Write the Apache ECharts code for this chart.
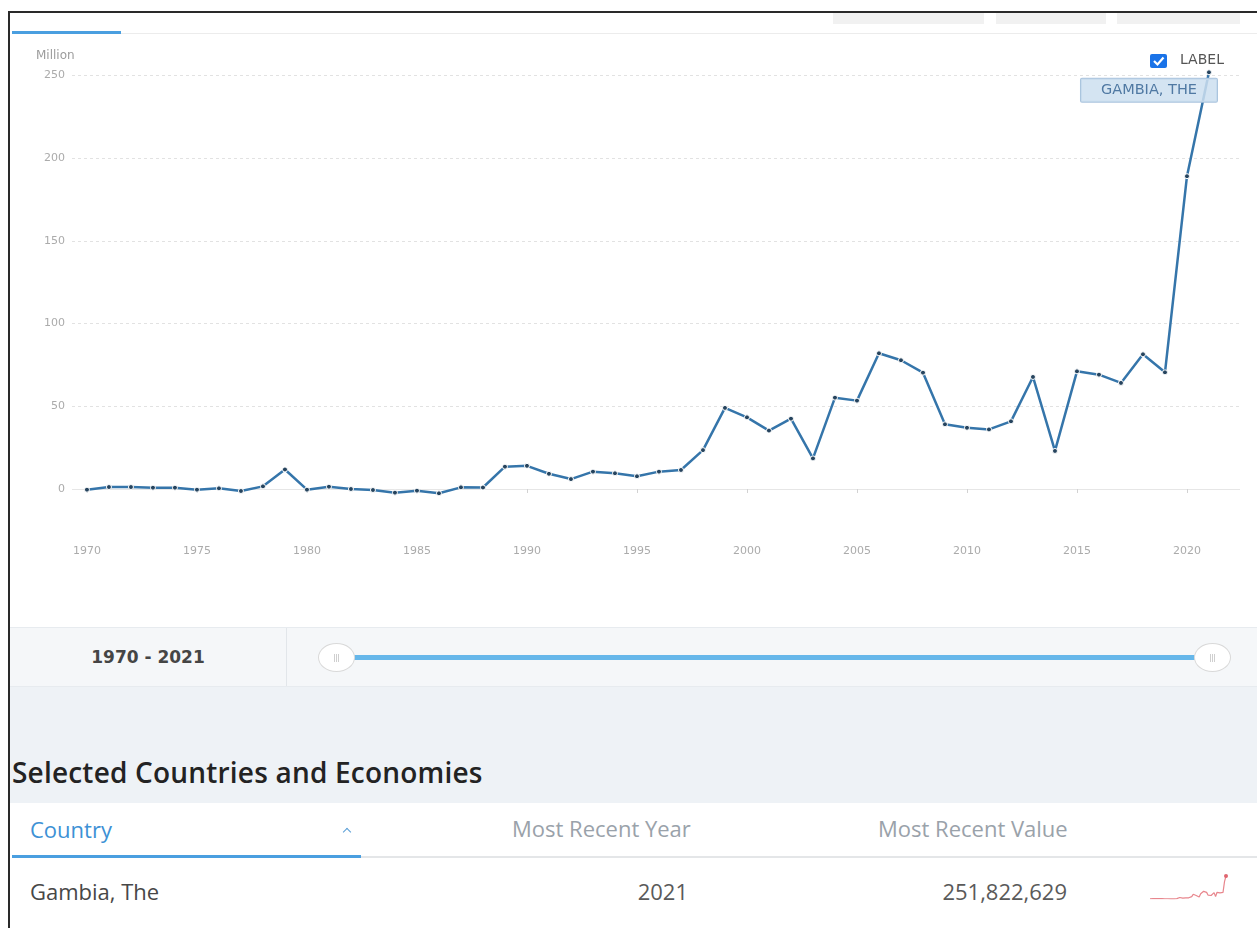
<!DOCTYPE html>
<html>
<head>
<meta charset="utf-8">
<title>Gambia, The</title>
<script src="https://cdn.jsdelivr.net/npm/echarts@6/dist/echarts.min.js"></script>
<style>
	body { margin: 0; background: #fff; font-family: "Open Sans", sans-serif; }
	#page { position: relative; width: 1257px; height: 928px; overflow: hidden; background: #fff; }
	.abs { position: absolute; }
	.frameL { left: 8px; top: 11px; width: 2px; height: 917px; background: #2a2a2a; }
	.frameT { left: 8px; top: 11px; width: 1249px; height: 2px; background: #2a2a2a; }
	.btn { top: 13px; height: 11px; background: #f1f1f1; }
	.tabSep { left: 121px; top: 33px; width: 1136px; height: 1px; background: #ececec; }
	.tabOn { left: 12px; top: 31px; width: 109px; height: 3px; background: #4a9fe0; }
	#chart { left: 0; top: 0; width: 1257px; height: 627px; }
	.sliderBox { left: 10px; top: 627px; width: 1247px; height: 58px; background: #f5f7f9; border-top: 1px solid #e7ebef; border-bottom: 1px solid #e7ebef; }
	.sliderCell { left: 10px; top: 628px; width: 276px; height: 58px; border-right: 1px solid #e2e6ea; font-family: "DejaVu Sans"; font-weight: bold; font-size: 17px; color: #454545; text-align: center; line-height: 58px; }
	.track { left: 336px; top: 655px; width: 876px; height: 5px; background: #66b7ea; border-radius: 3px; }
	.handle { top: 643px; width: 35px; height: 27px; background: #fff; border: 1.5px solid #d9d9d9; border-radius: 50%; }
	.handle i { position: absolute; top: 10px; width: 1px; height: 8px; background: #cfcfcf; }
	.greyBand { left: 10px; top: 687px; width: 1247px; height: 116px; background: #eef2f6; }
	.heading { left: 12px; top: 752px; font-size: 28px; font-weight: 600; color: #232323; line-height: 40px; white-space: nowrap; letter-spacing: 0.2px; }
	.tbl { left: 12px; top: 803px; width: 1245px; height: 125px; background: #fff; }
	.hdLine { left: 12px; top: 856px; width: 1245px; height: 2px; background: #e4e6e8; }
	.hdOn { left: 12px; top: 855px; width: 349px; height: 3px; background: #4a9fe0; }
	.txt { font-size: 22px; line-height: 30px; white-space: nowrap; }
	.caret { left: 344px; top: 829px; width: 5px; height: 5px; border-left: 1.5px solid #5a9ed6; border-top: 1.5px solid #5a9ed6; transform: rotate(45deg); }
	#spark { left: 1146px; top: 872px; width: 84px; height: 31px; }
</style>
</head>
<body>
<div id="page">
	<div class="abs frameL"></div>
	<div class="abs frameT"></div>
	<div class="abs btn" style="left:833px;width:151px"></div>
	<div class="abs btn" style="left:996px;width:110px"></div>
	<div class="abs btn" style="left:1117px;width:123px"></div>
	<div class="abs tabSep"></div>
	<div class="abs tabOn"></div>

	<div id="chart" class="abs"></div>

	<!-- range slider -->
	<div class="abs sliderBox"></div>
	<div class="abs sliderCell" id="range"></div>
	<div class="abs track"></div>
	<div class="abs handle" style="left:318px"><i style="left:15px"></i><i style="left:17px"></i><i style="left:19px"></i></div>
	<div class="abs handle" style="left:1194px"><i style="left:15px"></i><i style="left:17px"></i><i style="left:19px"></i></div>

	<div class="abs greyBand"></div>
	<div class="abs heading">Selected Countries and Economies</div>

	<!-- table -->
	<div class="abs tbl"></div>
	<div class="abs hdLine"></div>
	<div class="abs hdOn"></div>
	<div class="abs txt" style="left:30px;top:814px;color:#3d91d5">Country</div>
	<div class="abs caret"></div>
	<div class="abs txt" style="left:512px;top:813px;color:#9aa2aa">Most Recent Year</div>
	<div class="abs txt" style="left:878px;top:813px;color:#9aa2aa">Most Recent Value</div>
	<div class="abs txt" id="cName" style="left:30px;top:876px;color:#474747"></div>
	<div class="abs txt" id="cYear" style="right:569px;top:876px;color:#5a5a5a"></div>
	<div class="abs txt" id="cValue" style="right:190px;top:876px;color:#5a5a5a"></div>
	<div id="spark" class="abs"></div>
</div>
<script>
	/*数据*/
	var years = [1970, 1971, 1972, 1973, 1974, 1975, 1976, 1977, 1978, 1979,
		1980, 1981, 1982, 1983, 1984, 1985, 1986, 1987, 1988, 1989,
		1990, 1991, 1992, 1993, 1994, 1995, 1996, 1997, 1998, 1999,
		2000, 2001, 2002, 2003, 2004, 2005, 2006, 2007, 2008, 2009,
		2010, 2011, 2012, 2013, 2014, 2015, 2016, 2017, 2018, 2019,
		2020, 2021];
	// Million
	var values = [-0.4, 1.2, 1.2, 0.8, 0.8, -0.4, 0.4, -1.2, 1.6, 11.8,
		-0.4, 1.4, 0.0, -0.6, -2.2, -1.0, -2.6, 1.0, 0.9, 13.5,
		14.0, 9.2, 6.0, 10.5, 9.5, 7.7, 10.5, 11.5, 23.5, 49.0,
		43.3, 35.3, 42.5, 18.5, 55.2, 53.4, 82.0, 77.8, 70.3, 39.1,
		37.0, 36.0, 40.9, 67.7, 23.0, 71.1, 69.1, 64.1, 81.4, 70.5,
		189.0, 251.8];
	var xTicks = [1970, 1975, 1980, 1985, 1990, 1995, 2000, 2005, 2010, 2015, 2020];
	var yTicks = [0, 50, 100, 150, 200, 250];
	var countryName = 'Gambia, The';
	var labelText = 'GAMBIA, THE';
	var recentYear = '2021';
	var recentValue = '251,822,629';

	document.getElementById('range').textContent = years[0] + ' - ' + years[years.length - 1];
	document.getElementById('cName').textContent = countryName;
	document.getElementById('cYear').textContent = recentYear;
	document.getElementById('cValue').textContent = recentValue;

	var lineData = years.map(function(y, i) {
		var item = { value: [y, values[i]] };
		if(i == years.length - 1) {
			item.label = {
				show: true,
				position: 'inside',
				offset: [-60, 18],
				formatter: labelText,
				fontFamily: 'DejaVu Sans',
				fontSize: 14.5,
				color: '#5079a3',
				backgroundColor: 'rgba(205,223,240,0.85)',
				borderColor: '#aac4de',
				borderWidth: 1,
				borderRadius: 1,
				width: 136,
				align: 'center',
				lineHeight: 15,
				padding: [4, 0]
			};
		}
		return item;
	});

	/*主图*/
	var myChart = echarts.init(document.getElementById('chart'));
	var option = {
		animation: false,
		title: {
			text: 'Million',
			left: 31,
			top: 45,
			textStyle: { fontFamily: 'DejaVu Sans', fontSize: 12, fontWeight: 'normal', color: '#9c9c9c' }
		},
		grid: { left: 72, right: 17, top: 58.7, bottom: 93.3 },
		xAxis: {
			type: 'value',
			min: 1969.32,
			max: 2022.41,
			axisLine: { show: false },
			axisTick: { show: true, customValues: xTicks, length: 4, lineStyle: { color: '#d2d2d2' } },
			axisLabel: {
				customValues: xTicks,
				margin: 12,
				color: '#ababab',
				fontFamily: 'DejaVu Sans',
				fontSize: 11,
				formatter: function(v) { return String(v); }
			},
			splitLine: { show: false }
		},
		yAxis: [{
			type: 'value',
			min: -27,
			max: 260,
			axisLine: { show: false },
			axisTick: { show: false, customValues: yTicks.slice(1) },
			axisLabel: { customValues: yTicks, margin: 7, color: '#ababab', fontFamily: 'DejaVu Sans', fontSize: 11 },
			splitLine: { show: true, lineStyle: { type: [3, 3], color: '#e2e2e2', width: 1 } }
		}, {
			// 零线
			type: 'value',
			min: -27,
			max: 260,
			position: 'left',
			axisLine: { show: false },
			axisTick: { show: false, customValues: [0] },
			axisLabel: { show: false },
			splitLine: { show: true, lineStyle: { type: 'solid', color: '#e6e6e6', width: 1 } }
		}],
		graphic: [{
			type: 'rect',
			shape: { x: 1150, y: 54, width: 17, height: 14, r: 2 },
			style: { fill: '#1a73e8' }
		}, {
			type: 'polyline',
			shape: { points: [[1154, 61], [1157.5, 64.5], [1163.5, 57.5]] },
			style: { stroke: '#fff', lineWidth: 2.2, fill: null }
		}, {
			type: 'text',
			x: 1180,
			y: 60,
			style: { text: 'LABEL', fontFamily: 'DejaVu Sans', fontSize: 14, fill: '#555', verticalAlign: 'middle' }
		}],
		series: [{
			type: 'line',
			data: lineData,
			clip: false,
			symbol: 'circle',
			symbolSize: 5,
			showSymbol: true,
			lineStyle: { color: '#3575aa', width: 2.5 },
			itemStyle: { color: '#26445e', borderColor: '#fff', borderWidth: 1 },
			label: { show: false },
			emphasis: { disabled: true },
			z: 3
		}]
	};
	myChart.setOption(option);

	/*小图*/
	var sparkData = years.map(function(y, i) {
		if(i == years.length - 1) {
			return { value: [y, values[i]], symbol: 'circle', symbolSize: 4 };
		}
		return [y, values[i]];
	});
	var sparkChart = echarts.init(document.getElementById('spark'));
	sparkChart.setOption({
		animation: false,
		grid: { left: 4, right: 4, top: 4, bottom: 4 },
		xAxis: { type: 'value', min: 1970, max: 2021, show: false },
		yAxis: { type: 'value', min: -3, max: 252, show: false },
		series: [{
			type: 'line',
			data: sparkData,
			symbol: 'none',
			lineStyle: { color: '#e8868d', width: 1.2 },
			itemStyle: { color: '#e06670' },
			silent: true
		}]
	});
</script>
</body>
</html>
